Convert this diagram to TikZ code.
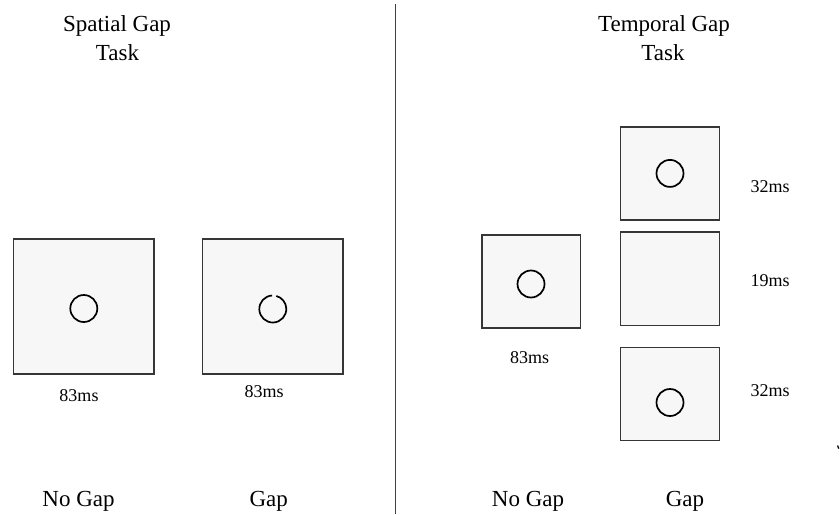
\documentclass[tikz,border=0pt]{standalone}
\usepackage{fontspec}
\setmainfont{Liberation Serif}
\usetikzlibrary{calc}
\definecolor{panelfill}{HTML}{F7F7F7}
\definecolor{panelline}{HTML}{363636}
\definecolor{rulegray}{HTML}{404040}
\begin{document}
\begin{tikzpicture}[x=1pt,y=-1pt,
  screen/.style={draw=panelline, fill=panelfill, line width=1.5pt, inner sep=0pt,
    minimum width=140.5pt, minimum height=135pt},
  smallscreen/.style={draw=panelline, fill=panelfill, line width=1.5pt, inner sep=0pt,
    minimum width=98.6pt, minimum height=93.3pt},
  ring/.style={draw=black, circle, line width=1.7pt, inner sep=0pt, minimum size=27pt},
  heading/.style={font=\fontsize{23}{26}\selectfont, anchor=base, inner sep=0pt},
  caption/.style={font=\fontsize{23}{26}\selectfont, anchor=base, inner sep=0pt},
  dur/.style={font=\fontsize{18}{20}\selectfont, anchor=base, inner sep=0pt}]
\useasboundingbox (0,0) rectangle (840,514);
\fill[white] (0,0) rectangle (840,514);

% divider between the two tasks
\coordinate (dtop) at (395.3,4);
\coordinate (dbot) at (395.3,514);
\draw[rulegray, line width=1.3pt] (dtop) -- (dbot);

% headings
\node[heading] (hsp1) at (117,31.7) {Spatial Gap};
\node[heading] (hsp2) at (117.5,60) {Task};
\node[heading] (htp1) at (664,31.7) {Temporal Gap};
\node[heading] (htp2) at (663,60) {Task};

% spatial gap task
\node[screen] (sng) at (83.7,306.5) {};
\node[ring] (sngc) at (83.8,308.5) {};
\node[screen] (sg) at (272.8,306.5) {};
\coordinate (sgc) at (272.8,309);
\draw[black, line width=1.7pt] ($(sgc)+(-93:13.5)$) arc[start angle=-93, end angle=-435, radius=13.5];
\node[dur] (sngt) at (79,401) {83ms};
\node[dur] (sgt) at (264,397) {83ms};

% temporal gap task
\node[smallscreen] (tng) at (531.2,281.4) {};
\node[ring] (tngc) at (531,284) {};
\node[smallscreen] (tg1) at (670,173.4) {};
\node[ring] (tg1c) at (670,173.4) {};
\node[smallscreen] (tg2) at (670,278.7) {};
\node[smallscreen] (tg3) at (670,393.9) {};
\node[ring] (tg3c) at (670,402.5) {};
\node[dur] (tngt) at (529.5,363) {83ms};
\node[dur] (tg1t) at (770,192.5) {32ms};
\node[dur] (tg2t) at (770,286) {19ms};
\node[dur] (tg3t) at (770,396) {32ms};

% condition labels
\node[caption] (lsng) at (78.5,506.7) {No Gap};
\node[caption] (lsg) at (268.7,506.7) {Gap};
\node[caption] (ltng) at (528,506.7) {No Gap};
\node[caption] (ltg) at (685,506.7) {Gap};

% small stroke at the right edge
\coordinate (ma) at (837.6,445.5);
\coordinate (mb) at (838.7,448.6);
\draw[black, line width=1.3pt] (ma) -- (mb);
\end{tikzpicture}
\end{document}
